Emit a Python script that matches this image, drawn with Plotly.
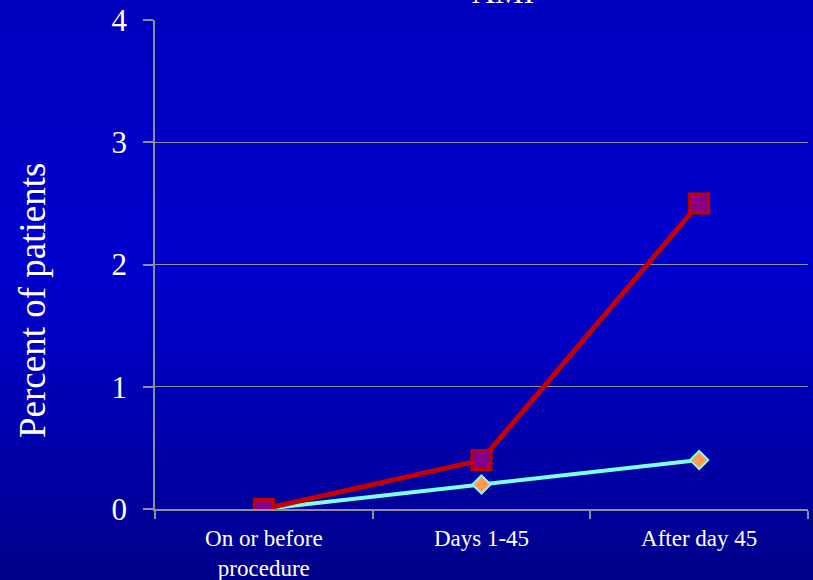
import plotly.graph_objects as go

# Categories along the x axis and the two series (percent of patients)
periods = ["On or before<br>procedure", "Days 1-45", "After day 45"]
series_red = [0.0, 0.4, 2.5]
series_cyan = [0.0, 0.2, 0.4]
y_ticks = [0, 1, 2, 3, 4]

serif = "Liberation Serif, Times New Roman, serif"
grid_gray = "#8E8E9E"

fig = go.Figure()

fig.add_trace(go.Scatter(
    x=periods, y=series_cyan, mode="lines+markers",
    line=dict(color="#7FFFE6", width=4),
    marker=dict(symbol="diamond", size=14, color="#FF9955",
                line=dict(color="#7FFFE6", width=2)),
    showlegend=False,
))
fig.add_trace(go.Scatter(
    x=periods, y=series_red, mode="lines+markers",
    line=dict(color="#C40000", width=5),
    marker=dict(symbol="square", size=19, color="#880088",
                line=dict(color="#C40000", width=3)),
    showlegend=False,
))

# Vertical blue gradient behind everything: slightly darker at the top,
# brightest a little above the middle, darkest at the bottom
def shade(t):
    if t < 0.45:
        f = t / 0.45
        return 190 + (205 - 190) * f
    f = ((t - 0.45) / 0.55) ** 1.3
    return 205 + (136 - 205) * f

shapes = []
n = 64
page_h, plot_h, bottom_m = 580, 489, 71
for i in range(n):
    t = (i + 0.5) / n
    b = round(shade(t))
    y_top_px = i * page_h / n
    y_bot_px = (i + 1) * page_h / n
    shapes.append(dict(
        type="rect", xref="paper", yref="paper", layer="below",
        x0=-0.5, x1=1.5,
        y0=(page_h - y_bot_px - bottom_m) / plot_h - 0.002,
        y1=(page_h - y_top_px - bottom_m) / plot_h + 0.002,
        fillcolor="rgb(0,0,%d)" % b, line=dict(width=0),
    ))

fig.update_layout(
    width=813, height=580,
    margin=dict(l=155, r=5, t=20, b=71, autoexpand=False),
    paper_bgcolor="#0000B8",
    plot_bgcolor="rgba(0,0,0,0)",
    shapes=shapes,
    font=dict(family=serif, color="white"),
    annotations=[
        dict(
            text="AMI", xref="paper", yref="paper", x=0.533, y=1,
            yshift=8, xanchor="center", yanchor="bottom", showarrow=False,
            font=dict(family=serif, size=32, color="white"),
        ),
        dict(
            text="Percent of patients", xref="paper", yref="paper",
            x=0, xshift=-122, y=(580 - 301 - 71) / 489, textangle=-90,
            xanchor="center", yanchor="middle", showarrow=False,
            font=dict(family=serif, size=37, color="white"),
        ),
    ],
)

fig.update_xaxes(
    type="category", range=[-0.5, 2.5], automargin=False,
    showgrid=False, showline=True, linecolor=grid_gray, linewidth=1.5,
    ticks="outside", tickson="boundaries", ticklen=8,
    tickcolor=grid_gray, tickwidth=1.5,
    ticklabelstandoff=8,
    tickfont=dict(family=serif, size=23, color="white"),
    zeroline=False,
)
fig.update_yaxes(
    range=[0, 4], tickvals=y_ticks, automargin=False,
    showgrid=True, gridcolor=grid_gray, gridwidth=1,
    showline=True, linecolor=grid_gray, linewidth=1.5,
    ticks="outside", ticklen=10, tickcolor=grid_gray, tickwidth=1.5,
    ticklabelstandoff=10,
    tickfont=dict(family=serif, size=31, color="white"),
    zeroline=False,
)

fig.write_html("out.html")
